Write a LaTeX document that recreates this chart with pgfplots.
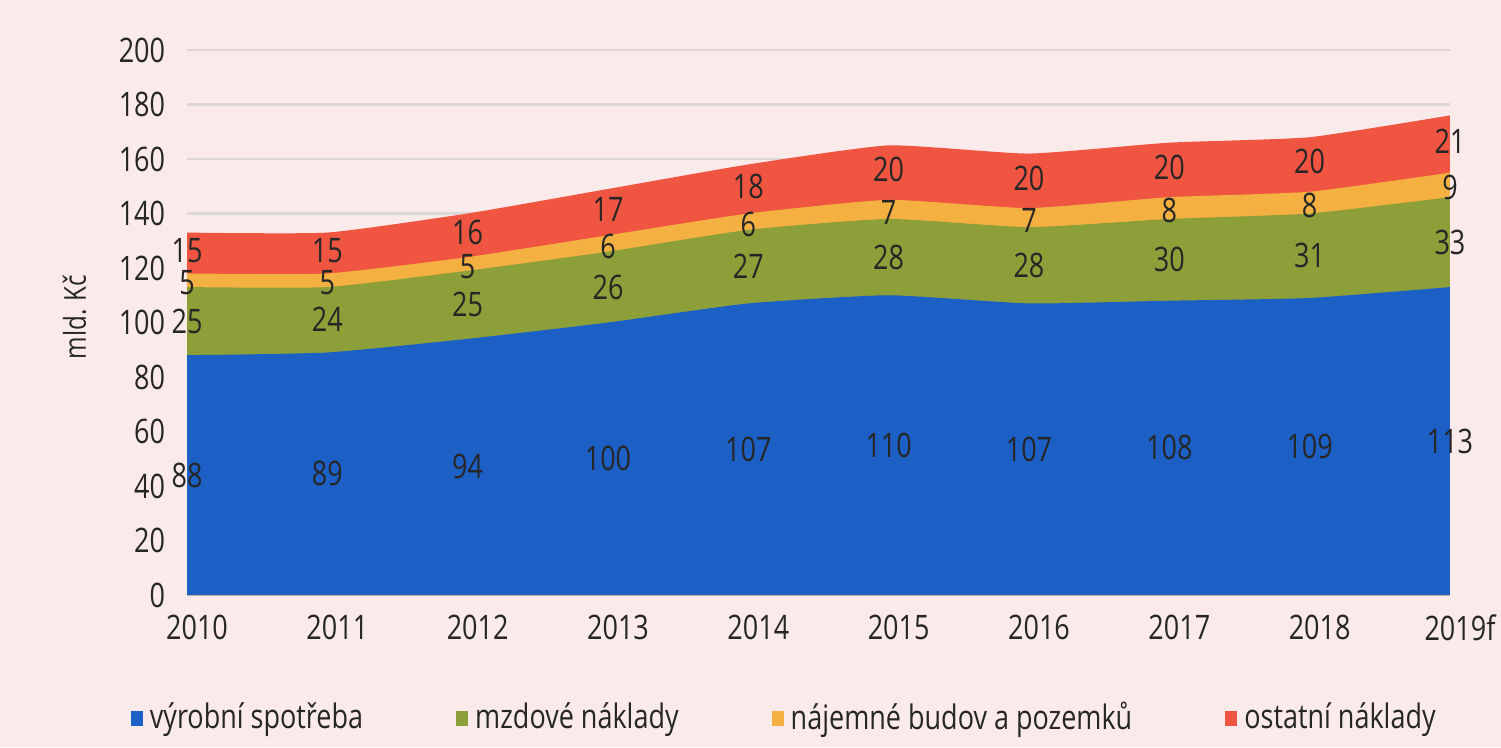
\documentclass[border=0pt]{standalone}
\usepackage{fontspec}
\setmainfont{Open Sans}[FakeStretch=0.8]
\usepackage{pgfplots}
\usepackage{pgfplotstable}
\pgfplotsset{compat=1.18}
\definecolor{bgpink}{HTML}{FBEAEA}
\definecolor{cblue}{HTML}{1C60C6}
\definecolor{cgreen}{HTML}{8D9F38}
\definecolor{cyellow}{HTML}{F5B042}
\definecolor{cred}{HTML}{EF5540}
\definecolor{labc}{HTML}{262626}
\definecolor{gridc}{HTML}{DDD6D6}
\pgfplotsset{lsq/.style={legend image code/.code={\fill[##1] (0mm,-0.75mm) rectangle (1.2mm,0.75mm);}}}
\pgfplotstableread{
x a b c d
0 88 25 5 15
1 89 24 5 15
2 94 25 5 16
3 100 26 6 17
4 107 27 6 18
5 110 28 7 20
6 107 28 7 20
7 108 30 8 20
8 109 31 8 20
9 113 33 9 21
}\data
\begin{document}
\fontsize{9.6pt}{11.5pt}\selectfont
\begin{tikzpicture}
\fill[bgpink] (0,0) rectangle (15.01,7.47);
\path[use as bounding box] (0,0) rectangle (15.01,7.47);
\begin{axis}[
  at={(1.87cm,1.52cm)}, anchor=south west,
  scale only axis, width=12.63cm, height=5.45cm,
  xmin=0, xmax=9, ymin=0, ymax=200,
  ytick={0,20,...,200},
  xtick={0,...,9},
  xticklabels={2010,2011,2012,2013,2014,2015,2016,2017,2018,2019f},
  axis line style={draw=none},
  major tick style={draw=none},
  ymajorgrids, grid style={gridc, line width=0.6pt},
  clip=false,
  /pgf/number format/assume math mode=true,
  xticklabel style={text=labc, yshift=-0.8mm, xshift=1.0mm},
  yticklabel style={text=labc, xshift=-1.0mm},
  ylabel={\fontsize{8.6pt}{10pt}\selectfont mld. Kč},
  ylabel style={at={(axis description cs:-0.089,0.51)}, anchor=center, text=labc},
  legend columns=4,
  legend cell align=left,
  legend style={at={(-0.045,-0.226)}, anchor=west, draw=none, fill=none, inner sep=0pt, text=labc,
    /tikz/every even column/.append style={column sep=8.6mm}},
  every node near coord/.append style={anchor=center, text=labc, inner sep=0pt},
]
\addlegendimage{lsq, fill=cblue, draw=none}
\addlegendimage{lsq, fill=cgreen, draw=none}
\addlegendimage{lsq, fill=cyellow, draw=none}
\addlegendimage{lsq, fill=cred, draw=none}
\legend{výrobní spotřeba, mzdové náklady, nájemné budov a pozemků, ostatní náklady}

\addplot[fill=cred, draw=none, smooth, tension=0.3, forget plot] table[x=x, y expr=\thisrow{a}+\thisrow{b}+\thisrow{c}+\thisrow{d}]{\data} \closedcycle;
\addplot[fill=cyellow, draw=none, smooth, tension=0.3, forget plot] table[x=x, y expr=\thisrow{a}+\thisrow{b}+\thisrow{c}]{\data} \closedcycle;
\addplot[fill=cgreen, draw=none, smooth, tension=0.3, forget plot] table[x=x, y expr=\thisrow{a}+\thisrow{b}]{\data} \closedcycle;
\addplot[fill=cblue, draw=none, smooth, tension=0.3, forget plot] table[x=x, y=a]{\data} \closedcycle;

\addplot[draw=none, forget plot, nodes near coords, point meta=explicit] table[x=x, y expr=\thisrow{a}/2, meta=a]{\data};
\addplot[draw=none, forget plot, nodes near coords, point meta=explicit] table[x=x, y expr=\thisrow{a}+\thisrow{b}/2, meta=b]{\data};
\addplot[draw=none, forget plot, nodes near coords, point meta=explicit] table[x=x, y expr=\thisrow{a}+\thisrow{b}+\thisrow{c}/2-1, meta=c]{\data};
\addplot[draw=none, forget plot, nodes near coords, point meta=explicit] table[x=x, y expr=\thisrow{a}+\thisrow{b}+\thisrow{c}+\thisrow{d}/2+1, meta=d]{\data};
\end{axis}
\end{tikzpicture}
\end{document}
